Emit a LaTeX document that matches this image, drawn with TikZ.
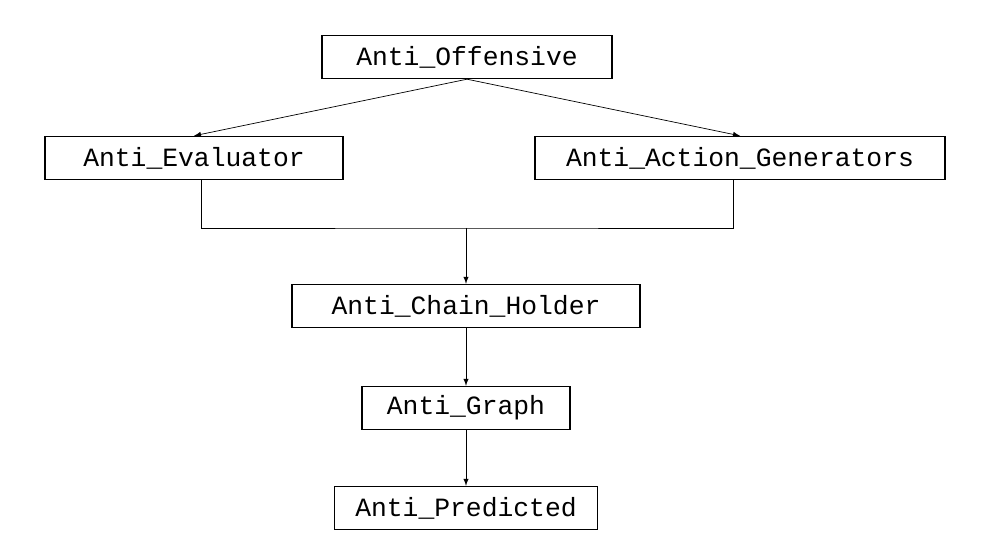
\documentclass[tikz,border=0pt]{standalone}
\usepackage{fontspec}
\setmonofont{Liberation Mono}
\usetikzlibrary{arrows}
\tikzset{
>=latex, % arrow heads
box/.style={draw, thick, font=\ttfamily\fontsize{15}{18}\selectfont, minimum height=0.86cm, inner xsep=6pt},
}
\begin{document}
\begin{tikzpicture}[x=0.02cm, y=-0.02cm]
            \useasboundingbox (0,0) rectangle (996,560);
            \node[box, minimum width=5.8cm] (off) at (467,57) {Anti\_Offensive};
            \node[box, minimum width=5.96cm] (eval) at (194,158) {Anti\_Evaluator};
            \node[box, minimum width=8.2cm] (gen) at (740,158) {Anti\_Action\_Generators};
            \node[box, minimum width=6.96cm] (chain) at (466,306) {Anti\_Chain\_Holder};
            \node[box, minimum width=4.16cm] (graph) at (466,408) {Anti\_Graph};
            \node[box, minimum width=5.26cm] (pred) at (466,508) {Anti\_Predicted};
            \coordinate (j) at (466,228);
            \draw[->] (off.south) -- (eval.north);
            \draw[->] (off.south) -- (gen.north);
            \draw (eval.south -| 201,0) |- (j) -| (gen.south -| 733,0);
            \draw[->] (j) -- (chain.north);
            \draw[->] (chain) -- (graph);
            \draw[->] (graph) -- (pred);
\end{tikzpicture}
\end{document}
